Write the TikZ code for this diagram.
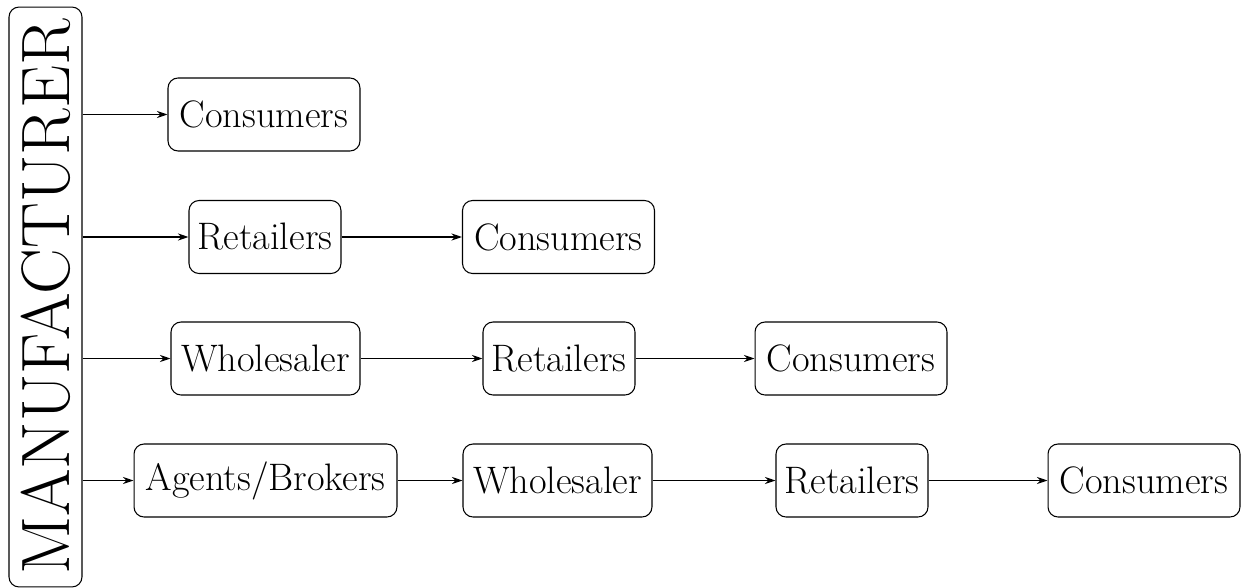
\documentclass[tikz,border=0pt]{standalone}
\usetikzlibrary{arrows.meta}
\begin{document}
\begin{tikzpicture}[x=0.02cm,y=-0.02cm,
  box/.style={draw,rounded corners=0.2cm,minimum height=1.46cm,inner xsep=2pt,line width=0.6pt,font=\fontsize{21.8}{26}\selectfont},
  link/.style={line width=0.6pt,-{Stealth[length=6pt,width=4pt]}}]
\useasboundingbox (0,0) rectangle (1241,588);
\node[draw,rounded corners=0.2cm,line width=0.6pt,rotate=90,minimum width=11.6cm,minimum height=1.46cm,inner sep=0pt,font=\fontsize{39}{44}\selectfont] (man) at (45.5,297) {MANUFACTURER};
% row 1
\node[box,minimum width=3.84cm] (c1) at (264,114.5) {Consumers};
% row 2
\node[box,minimum width=3.04cm] (r2) at (265,237) {Retailers};
\node[box,minimum width=3.84cm] (c2) at (558.5,237) {Consumers};
% row 3
\node[box,minimum width=3.78cm] (w3) at (265.5,358.5) {Wholesaler};
\node[box,minimum width=3.04cm] (r3) at (559,358.5) {Retailers};
\node[box,minimum width=3.84cm] (c3) at (851,358.5) {Consumers};
% row 4
\node[box,minimum width=5.26cm] (a4) at (265.5,480.5) {Agents/Brokers};
\node[box,minimum width=3.78cm] (w4) at (557.5,480.5) {Wholesaler};
\node[box,minimum width=3.04cm] (r4) at (852,480.5) {Retailers};
\node[box,minimum width=3.84cm] (c4) at (1144,480.5) {Consumers};
% connectors
\draw[link] (man.south |- c1.west) -- (c1.west);
\draw[link] (man.south |- r2.west) -- (r2.west);
\draw[link] (r2) -- (c2);
\draw[link] (man.south |- w3.west) -- (w3.west);
\draw[link] (w3) -- (r3);
\draw[link] (r3) -- (c3);
\draw[link] (man.south |- a4.west) -- (a4.west);
\draw[link] (a4) -- (w4);
\draw[link] (w4) -- (r4);
\draw[link] (r4) -- (c4);
\end{tikzpicture}
\end{document}
